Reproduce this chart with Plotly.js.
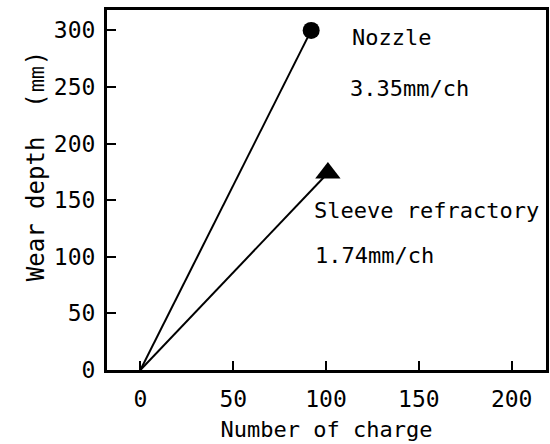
<!DOCTYPE html>
<html><head><meta charset="utf-8">
<script src="https://cdn.plot.ly/plotly-3.0.1.min.js"></script>
<style>html,body{margin:0;padding:0;background:#fff}</style>
</head><body>
<div id="chart" style="width:550px;height:444px"></div>
<script>
var seriesNames = ["Nozzle", "Sleeve refractory"];
var nozzleX = [0, 92];
var nozzleY = [0, 300];
var sleeveX = [0, 101];
var sleeveY = [0, 174];
var rateLabels = ["3.35mm/ch", "1.74mm/ch"];
var xTicks = [0, 50, 100, 150, 200];
var yTicks = [0, 50, 100, 150, 200, 250, 300];
var xTitle = "Number of charge";
var yTitle = "Wear depth  (<span style='font-size:28px'>㎜</span>)";

var F = "DejaVu Sans Mono, Liberation Mono, monospace";

function lineTrace(xs, ys, sym, sz, name) {
  return [{
    x: xs, y: ys, mode: "lines", type: "scatter", name: name,
    line: {color: "#000", width: 2}, hoverinfo: "skip", showlegend: false
  }, {
    x: [xs[xs.length-1]], y: [ys[ys.length-1]], mode: "markers", type: "scatter",
    marker: {symbol: sym, size: sz, color: "#000"}, showlegend: false
  }];
}

var data = [].concat(
  lineTrace(nozzleX, nozzleY, "circle", 17, seriesNames[0]),
  lineTrace(sleeveX, sleeveY, "triangle-up", 22, seriesNames[1])
);

var layout = {
  width: 550, height: 444,
  margin: {l: 107, r: 4, t: 10, b: 74},
  paper_bgcolor: "#fff", plot_bgcolor: "#fff",
  showlegend: false,
  xaxis: {
    range: [-18, 218.5], tickvals: xTicks, ticktext: xTicks.map(String),
    ticks: "inside", ticklen: 9, tickwidth: 2, tickcolor: "#000",
    showline: true, linewidth: 3, linecolor: "#000", mirror: true,
    showgrid: false, zeroline: false, ticklabelstandoff: 6,
    tickfont: {family: F, size: 23, color: "#000"},
    title: {text: xTitle, font: {family: F, size: 22, color: "#000"}, standoff: 12}
  },
  yaxis: {
    range: [0, 318], tickvals: yTicks, ticktext: yTicks.map(String),
    ticks: "inside", ticklen: 9, tickwidth: 2, tickcolor: "#000",
    showline: true, linewidth: 3, linecolor: "#000", mirror: true,
    showgrid: false, zeroline: false, ticklabelstandoff: 4,
    tickfont: {family: F, size: 23, color: "#000"}
  },
  annotations: [
    {x: -0.165, y: 0.565, xref: "paper", yref: "paper", text: yTitle, textangle: -90, showarrow: false, xanchor: "center", yanchor: "middle", font: {family: F, size: 24, color: "#000"}},
    {x: 113, y: 294, xref: "x", yref: "y", text: seriesNames[0], showarrow: false, xanchor: "left", yanchor: "middle", font: {family: F, size: 22, color: "#000"}},
    {x: 112, y: 249, xref: "x", yref: "y", text: rateLabels[0], showarrow: false, xanchor: "left", yanchor: "middle", font: {family: F, size: 22, color: "#000"}},
    {x: 92.5, y: 141, xref: "x", yref: "y", text: seriesNames[1], showarrow: false, xanchor: "left", yanchor: "middle", font: {family: F, size: 22, color: "#000"}},
    {x: 93, y: 101, xref: "x", yref: "y", text: rateLabels[1], showarrow: false, xanchor: "left", yanchor: "middle", font: {family: F, size: 22, color: "#000"}}
  ]
};

Plotly.newPlot("chart", data, layout, {staticPlot: true});
</script>
</body></html>
